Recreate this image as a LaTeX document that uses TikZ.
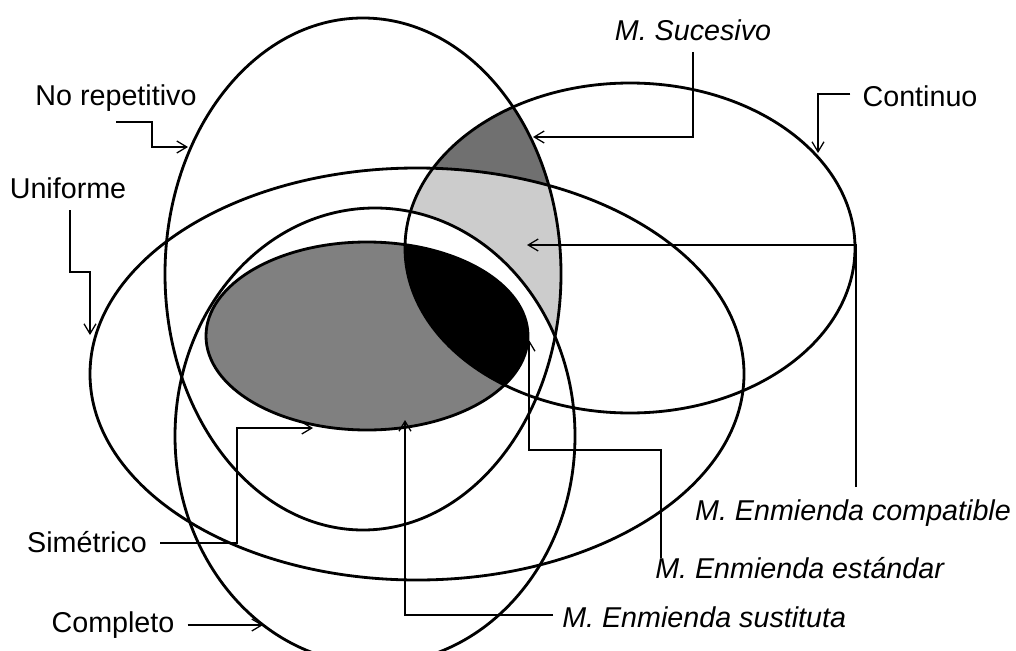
\documentclass[tikz,border=0pt]{standalone}
\usepackage{fontspec}
\setmainfont{Liberation Sans}
\usepackage{tikz}
\usetikzlibrary{arrows.meta,calc}

\definecolor{darkshade}{RGB}{112,112,112}
\definecolor{lightshade}{RGB}{204,204,204}
\definecolor{midshade}{RGB}{128,128,128}

\newcommand{\setNoRep}{(363,274) ellipse [x radius=198, y radius=256]}
\newcommand{\setCont}{(630,248) ellipse [x radius=225, y radius=165]}
\newcommand{\setUnif}{(417,374) ellipse [x radius=327, y radius=206]}
\newcommand{\setSim}{(367,336) ellipse [x radius=161, y radius=94]}
\newcommand{\setComp}{(375,436) ellipse [x radius=200, y radius=228]}

\tikzset{
  setline/.style={line width=2pt},
  callout/.style={line width=0.9pt, -{Straight Barb[length=2.5mm,width=3mm]}},
  lbl/.style={inner sep=0pt, font=\fontsize{20.4}{24}\selectfont, text height=14.6pt, text depth=0pt},
  lbli/.style={lbl, font=\fontsize{20.4}{24}\selectfont\itshape}
}

\begin{document}
\begin{tikzpicture}[x=0.025cm,y=-0.025cm]
\useasboundingbox (0,0) rectangle (1016,650);

% shaded regions
\begin{scope}
  \clip \setNoRep;
  \clip \setCont;
  \fill[darkshade] \setCont;
  \clip \setUnif;
  \fill[lightshade] \setUnif;
  \clip \setComp;
  \fill[white] \setComp;
\end{scope}
\fill[midshade] \setSim;
\begin{scope}
  \clip \setCont;
  \fill[black] \setSim;
\end{scope}

% set outlines
\draw[setline] \setNoRep;
\draw[setline] \setCont;
\draw[setline] \setUnif;
\draw[setline] \setComp;
\draw[setline] \setSim;

% labels
\node[lbl] (norep) at (116,95) {No repetitivo};
\node[lbl] (unif) at (68,188) {Uniforme};
\node[lbli] (suces) at (693,30) {M. Sucesivo};
\node[lbl] (cont) at (920,96) {Continuo};
\node[lbli] (compat) at (853,510) {M. Enmienda compatible};
\node[lbli, anchor=west] (estand) at (655,568) {M. Enmienda estándar};
\node[lbli, anchor=west] (sust) at (562,617) {M. Enmienda sustituta};
\node[lbl] (simet) at (87,542) {Simétrico};
\node[lbl] (compl) at (113,622) {Completo};

% arrow targets
\coordinate (tNoRep) at (188,147);
\coordinate (tUnif) at (90,335);
\coordinate (tSuces) at (533,137);
\coordinate (tCont) at (818,153);
\coordinate (tCompat) at (527,245);
\coordinate (tEstand) at (529,340);
\coordinate (tSust) at (405,420);
\coordinate (tSimet) at (313,428);
\coordinate (tCompl) at (263,625);

% callouts
\draw[callout] ($(norep)+(0,27)$) -| ($(tNoRep)+(-36,0)$) -- (tNoRep);
\draw[callout] ($(unif)+(2,22)$) -- ++(0,62) -| (tUnif);
\draw[callout] ($(suces)+(0,22)$) |- (tSuces);
\draw[callout] ($(cont.west)+(-12,-2)$) -| (tCont);
\draw[callout] ($(compat)+(3,-23)$) |- (tCompat);
\draw[callout] ($(estand.west)+(6,-10)$) -- ++(0,-108) -| (tEstand);
\draw[callout] ($(sust.west)+(-9,-2)$) -| (tSust);
\draw[callout] ($(simet.east)+(13,1)$) -- ++(77,0) |- (tSimet);
\draw[callout] ($(compl.east)+(13,3)$) -- (tCompl);
\end{tikzpicture}
\end{document}
